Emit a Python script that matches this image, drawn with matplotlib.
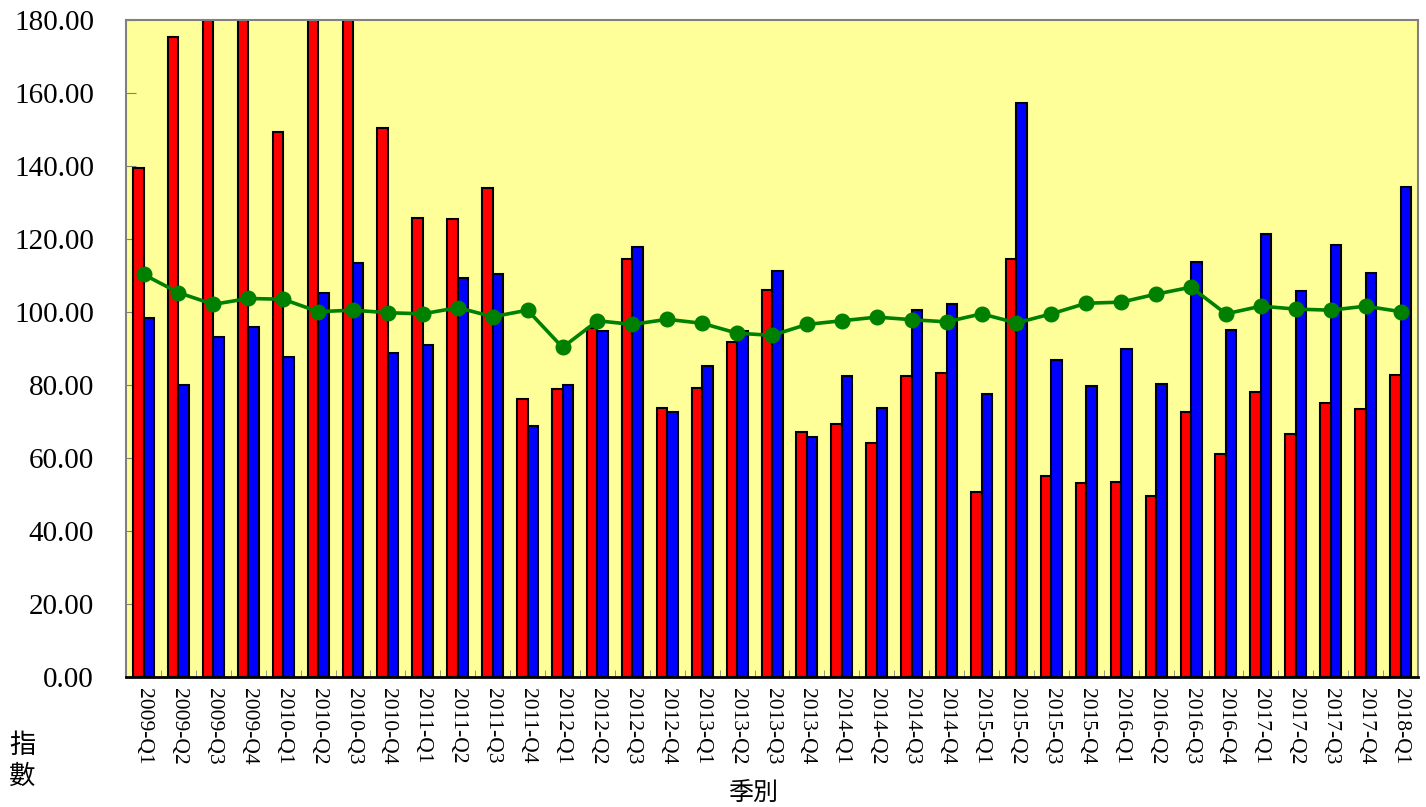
import numpy as np
import matplotlib
matplotlib.use("Agg")
import matplotlib.pyplot as plt
from matplotlib.ticker import FormatStrFormatter

quarters = ["2009-Q1", "2009-Q2", "2009-Q3", "2009-Q4",
            "2010-Q1", "2010-Q2", "2010-Q3", "2010-Q4",
            "2011-Q1", "2011-Q2", "2011-Q3", "2011-Q4",
            "2012-Q1", "2012-Q2", "2012-Q3", "2012-Q4",
            "2013-Q1", "2013-Q2", "2013-Q3", "2013-Q4",
            "2014-Q1", "2014-Q2", "2014-Q3", "2014-Q4",
            "2015-Q1", "2015-Q2", "2015-Q3", "2015-Q4",
            "2016-Q1", "2016-Q2", "2016-Q3", "2016-Q4",
            "2017-Q1", "2017-Q2", "2017-Q3", "2017-Q4",
            "2018-Q1"]

# red bars (some run past the top of the axis)
red_vals = [139.5, 175.3, 195.0, 190.0, 149.4, 210.0, 185.0, 150.4,
            125.7, 125.5, 133.9, 76.2, 78.8, 95.5, 114.4, 73.8,
            79.3, 91.9, 106.0, 67.2, 69.4, 64.2, 82.6, 83.3,
            50.8, 114.5, 55.0, 53.2, 53.3, 49.7, 72.5, 61.2,
            78.1, 66.5, 75.2, 73.4, 82.7]

blue_vals = [98.3, 80.0, 93.2, 96.0, 87.6, 105.3, 113.3, 88.7,
             91.0, 109.4, 110.5, 68.8, 79.9, 94.8, 117.9, 72.5,
             85.2, 94.8, 111.1, 65.8, 82.4, 73.8, 100.5, 102.3,
             77.4, 157.3, 86.8, 79.7, 89.9, 80.2, 113.6, 95.2,
             121.4, 105.8, 118.3, 110.6, 134.3]

green_vals = [110.3, 105.3, 102.1, 103.7, 103.5, 100.1, 100.5, 99.8,
              99.5, 101.2, 98.7, 100.5, 90.3, 97.6, 96.6, 98.0,
              96.9, 94.2, 93.6, 96.6, 97.6, 98.6, 97.9, 97.3,
              99.5, 97.0, 99.5, 102.4, 102.7, 104.9, 106.8, 99.5,
              101.6, 100.8, 100.5, 101.6, 100.1]

x = np.arange(len(quarters))
w = 0.3

fig = plt.figure(figsize=(14.26, 8.07), dpi=100)
ax = fig.add_axes([0.0884, 0.1611, 0.906, 0.8141])
ax.set_facecolor("#FFFF99")

ax.bar(x - w / 2, red_vals, w, color="#FF0000", edgecolor="black", linewidth=1.5, zorder=2)
ax.bar(x + w / 2, blue_vals, w, color="#0000FF", edgecolor="black", linewidth=1.5, zorder=2)
ax.plot(x, green_vals, color="#008000", linewidth=2.6, marker="o", markersize=10.5, zorder=3)

ax.set_xlim(-0.5, len(quarters) - 0.5)
ax.set_ylim(0, 180)
ax.set_yticks(np.arange(0, 181, 20))
ax.yaxis.set_major_formatter(FormatStrFormatter("%.2f"))

ax.set_xticks(x)
ax.set_xticklabels(quarters, rotation=-90, family="Liberation Serif", fontsize=15.5)
ax.set_xticks(np.arange(-0.5, len(quarters), 1), minor=True)
ax.tick_params(axis="x", which="major", length=0, pad=8)
ax.tick_params(axis="x", which="minor", direction="in", length=5, color="#808080")
ax.tick_params(axis="y", direction="in", length=7, color="#808080", pad=23)
for lab in ax.get_yticklabels():
    lab.set_family("Liberation Serif")
    lab.set_fontsize(21)

for side in ["left", "top", "right"]:
    ax.spines[side].set_color("#808080")
    ax.spines[side].set_linewidth(1.5)
ax.spines["bottom"].set_color("black")
ax.spines["bottom"].set_linewidth(2)

fig.text(0.0155, 0.057, "指\n數", family=["Noto Sans CJK TC", "DejaVu Sans"],
         fontsize=19, ha="center", va="center", linespacing=1.2)
fig.text(0.528, 0.0174, "季別", family=["Noto Sans CJK TC", "DejaVu Sans"],
         fontsize=18, ha="center", va="center")

fig.savefig("out.png", dpi=100)
